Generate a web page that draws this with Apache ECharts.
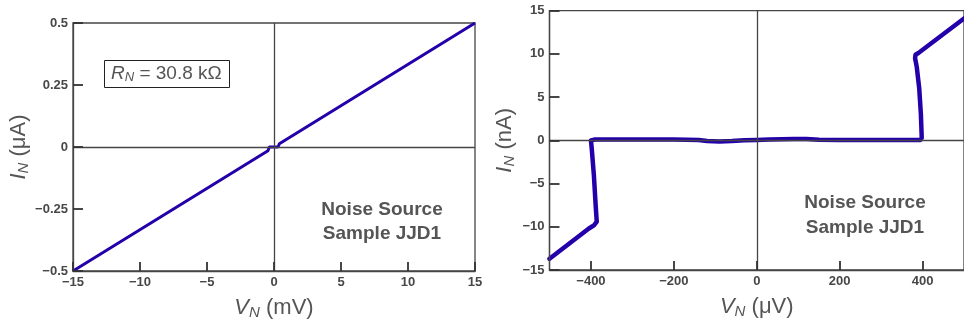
<!DOCTYPE html>
<html><head><meta charset="utf-8">
<script src="https://cdn.jsdelivr.net/npm/echarts@6/dist/echarts.min.js"></script>
<style>html,body{margin:0;padding:0;background:#fff}#c{width:964px;height:325px}</style>
</head><body><div id="c"></div>
<script>
// Left panel: V_N (mV) vs I_N (µA)
const leftV = [-15, -0.45, -0.35, 0.3, 0.4, 15];
const leftI = [-0.5, -0.015, 0, 0, 0.013, 0.5];
// Right panel: V_N (µV) vs I_N (nA)
const rightV = [-500, -405, -392, -386, -388, -393, -398, -400, -398, -390, -300, -200, -140, -120, -90, -60, -30, 0, 30, 60, 90, 120, 150, 200, 300, 395, 398, 396, 392, 386, 382, 383, 390, 500];
const rightI = [-13.7, -10.2, -9.8, -9.4, -8, -4, -1, 0, 0.12, 0.1, 0.1, 0.1, 0.05, -0.08, -0.12, -0.08, 0, 0.05, 0.1, 0.12, 0.15, 0.15, 0.08, 0.05, 0.05, 0.05, 0.3, 3, 6, 8.5, 9.5, 9.9, 10.1, 14.1];
const rightXTicks = [-400, -200, 0, 200, 400];
const rnLabel = '{i|R}{sub|N}{t| = 30.8 kΩ}';
const noteLabel = 'Noise Source\nSample JJD1';

const FONT = '"Liberation Sans", Arial, sans-serif';
const frame = '#454545';
const lineColor = '#2400ab';
const fmt = v => (v < 0 ? '−' + String(-v) : String(v));
const labelStyle = () => ({color: '#474747', fontWeight: 'bold', fontSize: 13, fontFamily: FONT, formatter: fmt, margin: 5});
const nameRich = () => ({
  i: {fontStyle: 'italic', fontSize: 22, color: '#555', fontFamily: FONT},
  sub: {fontStyle: 'italic', fontSize: 15, color: '#555', fontFamily: FONT, padding: [10, 0, 0, 0]},
  t: {fontSize: 22, color: '#555', fontFamily: FONT}
});
const zeroLines = () => ({
  silent: true, symbol: 'none', label: {show: false},
  lineStyle: {color: frame, width: 1.3, type: 'solid'},
  data: [{xAxis: 0}, {yAxis: 0}]
});
const tick = (len) => ({show: true, inside: true, length: len, lineStyle: {color: '#333', width: 1.8}});
const axLine = () => ({show: true, onZero: false, lineStyle: {color: frame, width: 1.3}});

const chart = echarts.init(document.getElementById('c'));
const rx = tick(9); rx.customValues = rightXTicks;
const rxl = labelStyle(); rxl.customValues = rightXTicks;
chart.setOption({
  animation: false,
  grid: [
    {left: 73, right: 489, top: 23, bottom: 53.5, show: true, borderColor: frame, borderWidth: 1.3, z: 0},
    {left: 549.5, right: -5, top: 10.7, bottom: 55, show: true, borderColor: frame, borderWidth: 1.3, z: 0}
  ],
  xAxis: [
    {gridIndex: 0, type: 'value', min: -15, max: 15, interval: 5, z: 5,
     axisLine: axLine(), splitLine: {show: false}, axisTick: tick(9), axisLabel: labelStyle(),
     name: '{i|V}{sub|N}{t| (mV)}', nameLocation: 'middle', nameGap: 24,
     nameTextStyle: {rich: nameRich()}},
    {gridIndex: 1, type: 'value', min: -500, max: 500, z: 5,
     axisLine: axLine(), splitLine: {show: false}, axisTick: rx, axisLabel: rxl,
     name: '{i|V}{sub|N}{t| (μV)}', nameLocation: 'middle', nameGap: 24,
     nameTextStyle: {rich: nameRich()}}
  ],
  yAxis: [
    {gridIndex: 0, type: 'value', min: -0.5, max: 0.5, interval: 0.25, z: 5,
     axisLine: axLine(), splitLine: {show: false}, axisTick: tick(10), axisLabel: labelStyle(),
     name: '{i|I}{sub|N}{t| (μA)}', nameLocation: 'middle', nameGap: 42,
     nameTextStyle: {rich: nameRich()}},
    {gridIndex: 1, type: 'value', min: -15, max: 15, interval: 5, z: 5,
     axisLine: axLine(), splitLine: {show: false}, axisTick: tick(10), axisLabel: labelStyle(),
     name: '{i|I}{sub|N}{t| (nA)}', nameLocation: 'middle', nameGap: 32,
     nameTextStyle: {rich: nameRich()}}
  ],
  title: [
    {text: rnLabel, left: 104, top: 59, padding: [4, 8, 4, 7], borderColor: '#222', borderWidth: 1,
     textStyle: {fontWeight: 'normal', rich: {
       i: {fontStyle: 'italic', fontWeight: 'normal', fontSize: 19, color: '#555', fontFamily: FONT},
       sub: {fontStyle: 'italic', fontWeight: 'normal', fontSize: 13, color: '#555', fontFamily: FONT, padding: [8, 0, 0, 0]},
       t: {fontWeight: 'normal', fontSize: 19, color: '#555', fontFamily: FONT}}}},
    {text: noteLabel, left: 377, top: 193, textAlign: 'center',
     textStyle: {fontSize: 19, fontWeight: 'bold', color: '#555', fontFamily: FONT, lineHeight: 24}},
    {text: noteLabel, left: 860, top: 185, textAlign: 'center',
     textStyle: {fontSize: 19, fontWeight: 'bold', color: '#555', fontFamily: FONT, lineHeight: 25}}
  ],
  series: [
    {type: 'line', xAxisIndex: 0, yAxisIndex: 0, showSymbol: false, symbol: 'none',
     lineStyle: {color: lineColor, width: 3}, data: leftV.map((v, k) => [v, leftI[k]]),
     markLine: zeroLines(), z: 3},
    {type: 'line', xAxisIndex: 1, yAxisIndex: 1, showSymbol: false, symbol: 'none',
     lineStyle: {color: lineColor, width: 4.5, join: 'round', cap: 'round'}, data: rightV.map((v, k) => [v, rightI[k]]),
     markLine: zeroLines(), z: 3}
  ]
});
</script></body></html>
